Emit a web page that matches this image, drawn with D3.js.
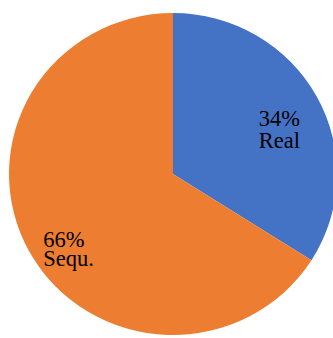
<!DOCTYPE html>
<html>
<head>
<meta charset="utf-8">
<script src="https://cdn.jsdelivr.net/npm/d3@7/dist/d3.min.js"></script>
<style>
html,body{margin:0;padding:0;background:#fff;overflow:hidden;}
svg{display:block;}
</style>
</head>
<body>
<svg id="chart" width="333" height="338"></svg>
<script>
const categories = ["Real", "Sequ."];
const values = [34, 66];
const percentLabels = ["34%", "66%"];
const colors = ["#4472C4", "#ED7D31"];

const svg = d3.select("#chart");
const cx = 173, cy = 174, r = 161, xStretch = 164 / 161;
const g = svg.append("g").attr("transform", `translate(${cx},${cy})`);
const pieG = g.append("g").attr("transform", `scale(${xStretch},1)`);

const pie = d3.pie().sort(null).value(d => d.value);
const data = categories.map((c, i) => ({cat: c, value: values[i], pct: percentLabels[i], color: colors[i]}));
const arcs = pie(data);
const arc = d3.arc().innerRadius(0).outerRadius(r);

pieG.selectAll("path.slice").data(arcs).enter().append("path")
  .attr("class", "slice")
  .attr("d", arc)
  .attr("fill", d => d.data.color);

// label placement: start from centroid, shifted to match layout
const labelArc = d3.arc().innerRadius(0).outerRadius(r * 1.5);
const shift = {"Real": [-20, 10], "Sequ.": [-24, 15]};
const lineGap = {"Real": 22, "Sequ.": 19};

arcs.forEach(d => {
  const c = labelArc.centroid(d);
  const s = shift[d.data.cat];
  const t = g.append("text")
    .attr("font-family", "'Liberation Serif', 'Times New Roman', serif")
    .attr("font-size", 22.5)
    .attr("fill", "#000")
    .attr("text-anchor", "start");
  t.append("tspan").attr("x", c[0] + s[0]).attr("y", c[1] + s[1]).text(d.data.pct);
  t.append("tspan").attr("x", c[0] + s[0]).attr("y", c[1] + s[1] + lineGap[d.data.cat]).text(d.data.cat);
});
</script>
</body>
</html>
